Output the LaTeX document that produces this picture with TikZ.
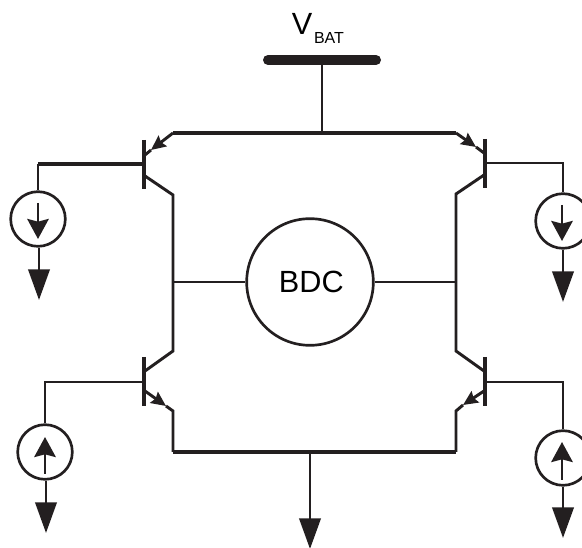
\documentclass[tikz,border=0pt]{standalone}
\usepackage{fontspec}
\setmainfont{Liberation Sans}
\usetikzlibrary{arrows.meta}
\definecolor{wirecolor}{HTML}{231F20}
\tikzset{
  wire/.style={color=wirecolor,line width=2.2pt},
  busline/.style={color=wirecolor,line width=2.8pt},
  barline/.style={color=wirecolor,line width=3.4pt},
  railline/.style={color=wirecolor,line width=7.5pt,line cap=round},
  source/.style={circle,draw=wirecolor,line width=2pt,minimum size=41pt,inner sep=0pt},
  outarrow/.style={wire,-{Triangle[length=23pt,width=16pt]}},
  innerarrow/.style={wire,-{Stealth[length=15pt,width=16pt,inset=2pt]}},
  emarrow/.style={wire,-{Stealth[length=11pt,width=10pt,inset=1.5pt]}}
}
\begin{document}
\begin{tikzpicture}[x=0.75pt,y=-0.75pt]
\useasboundingbox (0,0) rectangle (582,548);
%% named points of the wiring
\foreach \pname/\x/\y in {railL/268/60, railR/376/60, railT/322/60, busT/322/133,
    emTLo/173/133, emTLt/151/150, emTLe/145/155, baseTL/144/164, baseTLk/38/164, colTL/145/176, colTLk/173/195,
    emTRo/456/133, emTRt/476/147, emTRe/484/153, baseTR/485/163, baseTRk/563/163, colTR/484/175, colTRk/456/194,
    colBL/145/371, colBLk/173/351, baseBL/144/382, baseBLk/45/382, emBLe/145/391, emBLt/166/406, emBLk/173/411, busBL/173/452,
    colBR/484/371, colBRk/456/351, baseBR/485/382, baseBRk/563/382, emBRe/484/391, emBRt/463/405, emBRk/456/411, busBR/456/452,
    midL/173/282, midR/456/282, busB/310/452, gndB/310/549,
    barTLa/144/140, barTLb/144/189, barTRa/485/139, barTRb/485/188,
    barBLa/144/357, barBLb/144/406, barBRa/485/357, barBRb/485/406,
    outTL/39/300, outTR/563/302, outBL/46/533, outBR/563/538,
    inTLa/38/203, inTLb/38/239, inTRa/562/205, inTRb/562/241,
    inBLa/45/474, inBLb/45/437, inBRa/562/480, inBRb/562/442}
    \coordinate (\pname) at (\x,\y);
%% labels
\node (vbat) at (302,24) {\fontsize{23pt}{23pt}\selectfont V};
\node (vbatsub) at (329,38.5) {\fontsize{12pt}{12pt}\selectfont BAT};
%% sources and driver
\node[source,minimum size=95pt] (bdc) at (310,282) {\hspace{2pt}\fontsize{23pt}{24pt}\selectfont BDC};
\node[source] (srcTL) at (38,219) {};
\node[source] (srcTR) at (563,221) {};
\node[source] (srcBL) at (45,452) {};
\node[source] (srcBR) at (563,458) {};
%% rail and buses
\draw[railline] (railL) -- (railR);
\draw[wire] (railT) -- (busT);
\draw[busline] (emTLo) -- (emTRo);
\draw[busline] (busBL) -- (busBR);
%% transistor bars
\foreach \tname in {TL,TR,BL,BR}
    \draw[barline] (bar\tname a) -- (bar\tname b);
%% bases
\draw[busline] (baseTL) -- (baseTLk);
\draw[wire] (baseTLk) -- (baseTLk |- srcTL.north);
\draw[wire] (baseTR) -- (baseTRk) -- (baseTRk |- srcTR.north);
\draw[wire] (baseBL) -- (baseBLk) -- (baseBLk |- srcBL.north);
\draw[wire] (baseBR) -- (baseBRk) -- (baseBRk |- srcBR.north);
%% emitters and collectors
\draw[emarrow] (emTLo) -- (emTLt);
\draw[wire] (emTLt) -- (emTLe);
\draw[emarrow] (emTRo) -- (emTRt);
\draw[wire] (emTRt) -- (emTRe);
\draw[emarrow] (emBLe) -- (emBLt);
\draw[wire] (emBLt) -- (emBLk) -- (busBL);
\draw[emarrow] (emBRe) -- (emBRt);
\draw[wire] (emBRt) -- (emBRk) -- (busBR);
\draw[wire] (colTL) -- (colTLk) -- (colBLk) -- (colBL);
\draw[wire] (colTR) -- (colTRk) -- (colBRk) -- (colBR);
\draw[wire] (midL) -- (bdc.west);
\draw[wire] (bdc.east) -- (midR);
%% current arrows
\foreach \tname in {TL,TR,BL,BR}
    \draw[innerarrow] (in\tname a) -- (in\tname b);
\foreach \tname in {TL,TR,BL,BR}
    \draw[outarrow] (out\tname |- src\tname.south) -- (out\tname);
\draw[wire,-{Triangle[length=23pt,width=16pt]}] (busB) -- (gndB);
\end{tikzpicture}
\end{document}
